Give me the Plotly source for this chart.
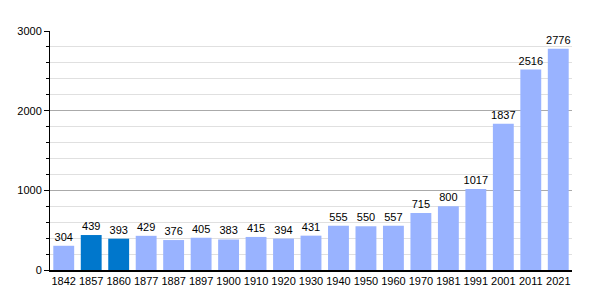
import plotly.graph_objects as go

years = ["1842","1857","1860","1877","1887","1897","1900","1910","1920","1930","1940","1950","1960","1970","1981","1991","2001","2011","2021"]
population = [304,439,393,429,376,405,383,415,394,431,555,550,557,715,800,1017,1837,2516,2776]
highlight = ["1857","1860"]

light = "#99b3ff"
dark = "#0077cc"
colors = [dark if y in highlight else light for y in years]

fig = go.Figure(go.Bar(
    x=years, y=population, marker=dict(color=colors, line=dict(width=0)),
    text=[str(v) for v in population], textposition="outside", cliponaxis=False,
    textfont=dict(family="Liberation Sans, Arial", size=11, color="#000"),
))
fig.update_layout(
    width=600, height=300, margin=dict(l=50, r=28, t=31, b=30),
    paper_bgcolor="white", plot_bgcolor="white", bargap=0.24, showlegend=False,
    uniformtext=dict(minsize=11, mode="show"),
    font=dict(family="Liberation Sans, Arial", size=11, color="#000"),
    xaxis=dict(type="category", showline=True, linecolor="#000", linewidth=1.5,
               ticks="", tickfont=dict(size=11)),
    yaxis=dict(range=[0,3000], dtick=1000, showline=True, linecolor="#000", linewidth=1,
               ticks="outside", ticklen=5, tickcolor="#000", gridcolor="#aaaaaa", gridwidth=1,
               zeroline=False, tickfont=dict(size=11),
               minor=dict(dtick=200, showgrid=True, gridcolor="#e0e0e0", ticks="outside",
                          ticklen=3, tickcolor="#000")),
)
fig.write_html("out.html")
